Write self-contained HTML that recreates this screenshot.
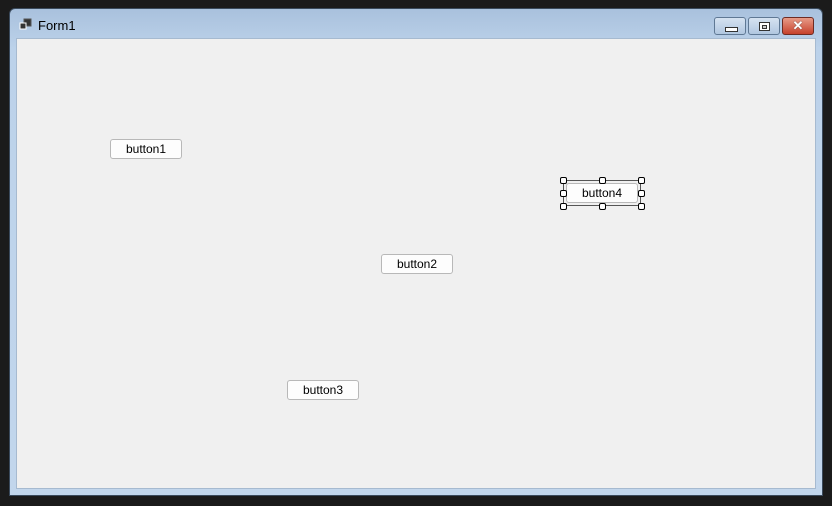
<!DOCTYPE html>
<html><head><style>
body{margin:0;width:832px;height:506px;background:#1b1b1b;position:relative;overflow:hidden;font-family:"Liberation Sans",sans-serif}
.win{position:absolute;left:9px;top:8px;width:814px;height:488px;background:linear-gradient(#a9c1dd 0,#bcd2ea 40px,#c2d6ec 100%);border:1px solid #3a4a5c;border-radius:6px 6px 0 0;box-sizing:border-box}
.client{position:absolute;left:16px;top:38px;width:800px;height:451px;background:#f0f0f0;border:1px solid #a6bad0;box-sizing:border-box}
.title{position:absolute;left:38px;top:18px;font-size:13px;color:#000}
.btn{position:absolute;width:72px;height:20px;background:#fdfdfd;border:1px solid #b8b8b8;border-radius:3px;box-sizing:border-box;font-size:12px;text-align:center;line-height:18px;color:#000}
.cb{position:absolute;top:17px;width:32px;height:18px;border:1px solid #5f7894;border-radius:3px;box-sizing:border-box;background:linear-gradient(#d5e2f1,#b1c7e0)}
.h{position:absolute;width:5px;height:5px;border:1px solid #000;background:#fff;border-radius:2px}
</style></head><body>
<div class="win"></div>
<svg style="position:absolute;left:19px;top:18px" width="14" height="13"><rect x="5" y="1" width="7" height="7" fill="#333" stroke="#555"/><rect x="1" y="5" width="6" height="6" fill="#333" stroke="#fff"/></svg>
<div class="title">Form1</div>
<div class="cb" style="left:714px"><div style="position:absolute;left:10px;top:9px;width:11px;height:3px;background:#fff;border:1px solid #333"></div></div>
<div class="cb" style="left:748px"><div style="position:absolute;left:10px;top:4px;width:9px;height:7px;background:#fff;border:1px solid #333"><div style="margin:2px;height:2px;border:1px solid #333;background:#ccc"></div></div></div>
<div class="cb" style="left:782px;border-color:#6e2b22;background:linear-gradient(#e79b87,#c6412c)"><div style="position:absolute;left:0;right:0;top:0;text-align:center;color:#fff;font-weight:bold;font-size:13px;line-height:16px;text-shadow:0 0 1px #333">✕</div></div>
<div class="client"></div>
<div class="btn" style="left:110px;top:139px">button1</div>
<div class="btn" style="left:381px;top:254px">button2</div>
<div class="btn" style="left:287px;top:380px">button3</div>
<div style="position:absolute;left:563px;top:180px;width:78px;height:26px;border:1px solid #555;box-sizing:border-box"></div>
<div class="btn" style="left:566px;top:183px;width:72px">button4</div>
<div class="h" style="left:560px;top:177px"></div><div class="h" style="left:599px;top:177px"></div><div class="h" style="left:638px;top:177px"></div>
<div class="h" style="left:560px;top:190px"></div><div class="h" style="left:638px;top:190px"></div>
<div class="h" style="left:560px;top:203px"></div><div class="h" style="left:599px;top:203px"></div><div class="h" style="left:638px;top:203px"></div>
</body></html>
